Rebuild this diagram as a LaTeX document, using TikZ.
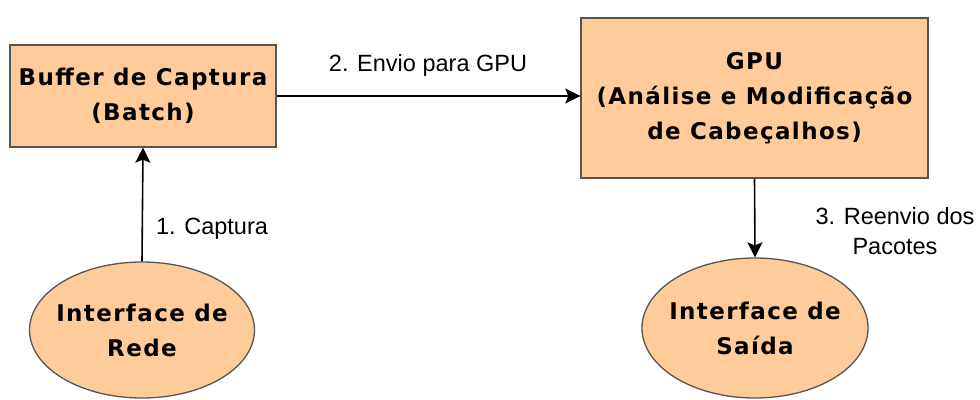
\documentclass[tikz,border=0pt]{standalone}
\usepackage{fontspec}
\setmainfont{Liberation Sans}
\newfontfamily\headfont[LetterSpace=6]{DejaVu Sans}
\usetikzlibrary{shapes.geometric,arrows.meta}
\definecolor{boxfill}{HTML}{FFCC99}
\definecolor{boxline}{HTML}{555555}
\tikzset{
  headtext/.style={align=center, font=\headfont\fontsize{23}{35}\selectfont\bfseries, inner sep=0pt},
  procbox/.style={headtext, draw=boxline, line width=1.3pt, fill=boxfill, rectangle},
  iface/.style={draw=boxline, line width=1.3pt, fill=boxfill, ellipse, inner sep=0pt},
  flow/.style={draw=black, line width=1.6pt, -{Stealth[length=15pt,width=15pt,inset=3pt]}},
  lbl/.style={font=\fontsize{23.5}{30}\selectfont, align=center, inner sep=0pt}
}
\begin{document}
\begin{tikzpicture}[x=1pt,y=-1pt]
  \useasboundingbox (0,0) rectangle (980,399);
  % processing stages
  \node[procbox, minimum width=266pt, minimum height=102pt] (buf) at (143,96)
    {Buffer de Captura\\(Batch)};
  \node[procbox, minimum width=347pt, minimum height=160pt] (gpu) at (754.5,98)
    {GPU\\(Análise e Modificação\\de Cabeçalhos)};
  % network interfaces (outline sized independently of the text)
  \node[iface, minimum width=225pt, minimum height=136pt] (rx) at (142,330) {};
  \node[headtext] (rxtext) at (rx.center) {Interface de\\Rede};
  \node[iface, minimum width=226pt, minimum height=140pt] (tx) at (755,328) {};
  \node[headtext] (txtext) at (tx.center) {Interface de\\Saída};
  % data flow
  \draw[flow] (rx.north) -- (buf.south);
  \draw[flow] (buf.east) -- (gpu.west |- buf.east);
  \draw[flow] (gpu.south) -- (tx.north);
  % step labels
  \node[lbl] (l1) at (212,229) {1. Captura};
  \node[lbl] (l2) at (428,65) {2. Envio para GPU};
  \node[lbl] (l3) at (895,231) {3. Reenvio dos\\Pacotes};
\end{tikzpicture}
\end{document}
